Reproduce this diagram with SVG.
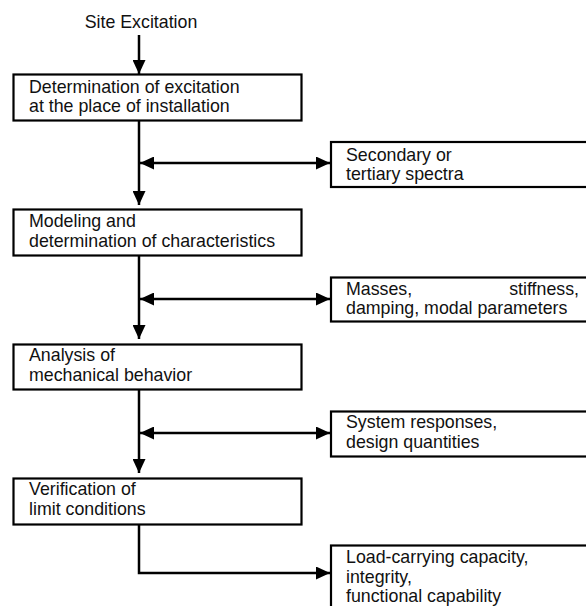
<svg xmlns="http://www.w3.org/2000/svg" width="586" height="606" viewBox="0 0 586 606">
<defs>
<style>
text{font-family:"Liberation Sans",Arial,sans-serif;font-size:17.8px;fill:#111}
.box{fill:#fff;stroke:#000;stroke-width:2.2}
.ln{fill:none;stroke:#000;stroke-width:2.5}
</style>
<marker id="ah" viewBox="0 0 14 13" refX="14" refY="6.5" markerWidth="14" markerHeight="13" markerUnits="userSpaceOnUse" orient="auto-start-reverse">
<path d="M0,0 L14,6.5 L0,13 Z" fill="#000"/>
</marker>
</defs>
<rect width="586" height="606" fill="#fff"/>
<g id="connectors">
<line class="ln" x1="139" y1="35" x2="139" y2="74" marker-end="url(#ah)"/>
<line class="ln" x1="139" y1="120" x2="139" y2="205" marker-end="url(#ah)"/>
<line class="ln" x1="140" y1="163" x2="330" y2="163" marker-start="url(#ah)" marker-end="url(#ah)"/>
<line class="ln" x1="139" y1="255" x2="139" y2="339" marker-end="url(#ah)"/>
<line class="ln" x1="140" y1="299" x2="330" y2="299" marker-start="url(#ah)" marker-end="url(#ah)"/>
<line class="ln" x1="139" y1="389" x2="139" y2="473" marker-end="url(#ah)"/>
<line class="ln" x1="140" y1="433" x2="330" y2="433" marker-start="url(#ah)" marker-end="url(#ah)"/>
<polyline class="ln" points="139,524 139,573 330,573" marker-end="url(#ah)"/>
</g>
<g id="site">
<text x="141" y="28" text-anchor="middle">Site Excitation</text>
</g>
<g id="n1">
<rect class="box" x="13.5" y="74.5" width="288" height="46"/>
<text x="29" y="93">Determination of excitation</text>
<text x="29" y="112">at the place of installation</text>
</g>
<g id="s1">
<rect class="box" x="331" y="142" width="270" height="45"/>
<text x="346" y="161">Secondary or</text>
<text x="346" y="180">tertiary spectra</text>
</g>
<g id="n2">
<rect class="box" x="13.5" y="209.5" width="288" height="46"/>
<text x="29" y="227">Modeling and</text>
<text x="29" y="247">determination of characteristics</text>
</g>
<g id="s2">
<rect class="box" x="331" y="277.5" width="270" height="44"/>
<text x="346" y="295">Masses,</text>
<text x="579" y="295" text-anchor="end">stiffness,</text>
<text x="346" y="314">damping, modal parameters</text>
</g>
<g id="n3">
<rect class="box" x="13.5" y="344.5" width="288" height="45"/>
<text x="29" y="361">Analysis of</text>
<text x="29" y="381">mechanical behavior</text>
</g>
<g id="s3">
<rect class="box" x="331" y="411.5" width="270" height="45"/>
<text x="346" y="428">System responses,</text>
<text x="346" y="448">design quantities</text>
</g>
<g id="n4">
<rect class="box" x="13.5" y="478.5" width="288" height="46"/>
<text x="29" y="495">Verification of</text>
<text x="29" y="515">limit conditions</text>
</g>
<g id="s4">
<rect class="box" x="331" y="545.5" width="270" height="70"/>
<text x="346" y="563">Load-carrying capacity,</text>
<text x="346" y="583">integrity,</text>
<text x="346" y="602">functional capability</text>
</g>
</svg>
